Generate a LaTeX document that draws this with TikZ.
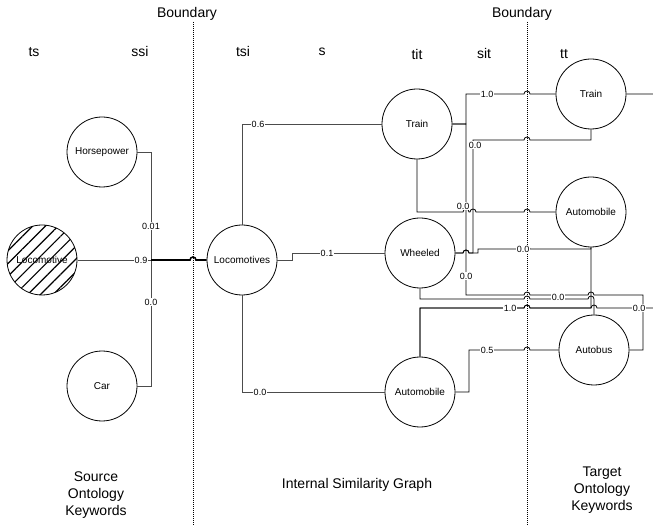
\documentclass[tikz,border=0pt]{standalone}
\usepackage{fontspec}
\setmainfont{Liberation Sans}
\usetikzlibrary{patterns.meta}

\definecolor{wire}{gray}{0.3}
% small jump of a horizontal line over a vertical one at x=#1
\newcommand{\hop}[2]{-- (#1-3,#2) arc[start angle=180, end angle=360, radius=3]}

\tikzset{
  kw/.style={circle, draw, line width=0.8pt, minimum size=70pt, inner sep=0pt, font=\fontsize{10}{10}\selectfont},
  hatched/.style={kw, pattern={Lines[angle=45, distance=9pt, line width=1.2pt]}},
  conn/.style={draw=wire, line width=0.8pt},
  trunk/.style={draw=black, line width=1.6pt},
  lbl/.style={fill=white, inner sep=0.8pt, font=\fontsize{9}{9}\selectfont},
  bound/.style={line width=0.7pt, dash pattern=on 1pt off 1pt},
  coltxt/.style={font=\fontsize{14}{17}\selectfont, align=center},
}

\begin{document}
\begin{tikzpicture}[x=1pt, y=-1pt]
        \path[use as bounding box] (0,0) rectangle (653,526);
        \clip (0,0) rectangle (653,526);

        % boundaries and headings
        \draw[bound] (193,22) -- (193,526);
        \draw[bound] (527,22) -- (527,526);
        \node[coltxt] (bd1) at (187,14) {Boundary};
        \node[coltxt] (bd2) at (522,14) {Boundary};
        \node[coltxt] (hts) at (34,52) {ts};
        \node[coltxt] (hssi) at (140,52) {ssi};
        \node[coltxt] (htsi) at (243,52) {tsi};
        \node[coltxt] (hs) at (322,52) {s};
        \node[coltxt] (htit) at (417,54) {tit};
        \node[coltxt] (hsit) at (484,54) {sit};
        \node[coltxt] (htt) at (564,54) {tt};
        \node[coltxt] (src) at (96,495) {Source\\Ontology\\Keywords};
        \node[coltxt] (isg) at (357,485) {Internal Similarity Graph};
        \node[coltxt] (tgt) at (602,490) {Target\\Ontology\\Keywords};

        % keywords
        \node[kw] (Horsepower) at (102,152) {Horsepower};
        \node[hatched] (Locomotive) at (42,260) {Locomotive};
        \node[kw] (Car) at (102,386) {Car};
        \node[kw] (Locomotives) at (242,260) {Locomotives};
        \node[kw] (TrainM) at (417,124) {Train};
        \node[kw] (Wheeled) at (420,253) {Wheeled};
        \node[kw] (AutoM) at (420,392) {Automobile};
        \node[kw] (TrainR) at (591,94) {Train};
        \node[kw] (AutoR) at (591,212) {Automobile};
        \node[kw] (Autobus) at (594,350) {Autobus};

        % source side
        \coordinate (srcjoin) at (151,260);
        \draw[conn] (Horsepower.east) -- (151,152) -- (srcjoin);
        \draw[conn] (Car.east) -- (151,386) -- (srcjoin);
        \draw[conn] (Locomotive.east) -- (srcjoin);
        \draw[trunk] (srcjoin) \hop{193}{260} -- (Locomotives.west);

        % internal graph
        \draw[conn] (Locomotives.north) -- (242,124) -- (TrainM.west);
        \draw[conn] (Locomotives.east) -- (292,260) -- (292,253) -- (Wheeled.west);
        \draw[conn] (Locomotives.south) -- (242,392) -- (AutoM.west);

        % to the target side
        \draw[conn, draw=black] (TrainM.east) -- (466,124) -- (466,94) \hop{527}{94} -- (TrainR.west);
        \draw[conn, draw=black] (TrainM.east) -- (466,124) -- (466,295) \hop{527}{295} \hop{591}{295} -- (643,295) -- (643,350) -- (Autobus.east);
        \draw[conn, draw=black] (TrainM.south) -- (417,212) \hop{466}{212} \hop{473}{212} \hop{527}{212} -- (AutoR.west);
        \draw[conn, draw=black] (Wheeled.east) \hop{466}{253} -- (473,253) -- (473,140) \hop{527}{140} -- (591,140) -- (TrainR.south);
        \draw[conn, draw=black] (Wheeled.east) \hop{466}{253} -- (478,253) -- (478,249) \hop{527}{249} -- (591,249) -- (AutoR.south);
        \draw[conn, draw=black] (Wheeled.south) -- (420,299) \hop{527}{299} \hop{591}{299} -- (594,299) -- (Autobus.north);
        \draw[conn, draw=black] (AutoM.north) -- (420,308) \hop{527}{308} -- (591,308) -- (AutoR.south);
        \draw[conn, draw=black] (AutoM.north) -- (420,308) \hop{527}{308} -- (591,308) \hop{594}{308} -- (665,308) -- (665,94) -- (TrainR.east);
        \draw[conn, draw=black] (AutoM.east) -- (469,392) -- (469,350) \hop{527}{350} -- (Autobus.west);

        % weights
        \node[lbl] (w1) at (151,226) {0.01};
        \node[lbl] (w2) at (141,260) {0.9};
        \node[lbl] (w3) at (151,302) {0.0};
        \node[lbl] (w4) at (258,124) {0.6};
        \node[lbl] (w5) at (327,253) {0.1};
        \node[lbl] (w6) at (260,392) {0.0};
        \node[lbl] (w7) at (487,94) {1.0};
        \node[lbl] (w8) at (475,145) {0.0};
        \node[lbl] (w9) at (463,206) {0.0};
        \node[lbl] (w10) at (523,249) {0.0};
        \node[lbl] (w11) at (466,276) {0.0};
        \node[lbl] (w12) at (558,297) {0.0};
        \node[lbl] (w13) at (510,308) {1.0};
        \node[lbl] (w14) at (639,308) {0.0};
        \node[lbl] (w15) at (487,350) {0.5};
      \end{tikzpicture}
\end{document}
